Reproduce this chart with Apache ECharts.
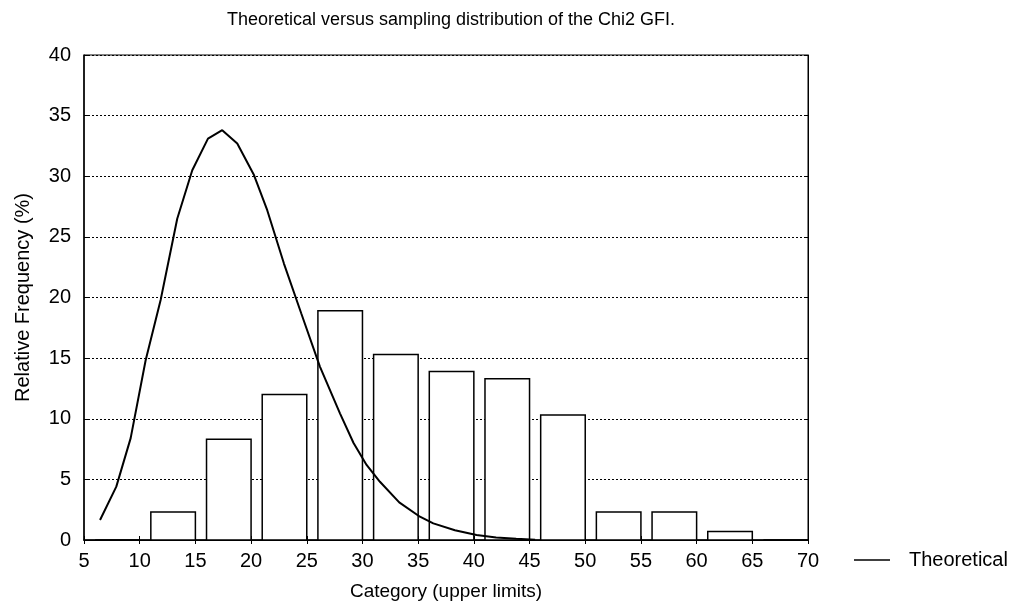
<!DOCTYPE html>
<html>
<head>
<meta charset="utf-8">
<script src="https://cdn.jsdelivr.net/npm/echarts@6/dist/echarts.min.js"></script>
<style>
html, body { margin: 0; padding: 0; background: #fff; }
#main { width: 1010px; height: 611px; }
</style>
</head>
<body>
<div id="main"></div>
<script>
// category upper limits and the sampled relative frequency (%) of each bin
var upperLimits = [10, 15, 20, 25, 30, 35, 40, 45, 50, 55, 60, 65, 70];
var sampleFreq = [0, 2.3, 8.3, 12.0, 18.9, 15.3, 13.9, 13.3, 10.3, 2.3, 2.3, 0.7, 0];

// theoretical chi2 curve
var theoX = [6.44, 7.9, 9.19, 10.53, 11.88, 13.37, 14.72, 16.13, 17.41, 18.76, 20.26, 21.45, 22.95, 24.5, 26.18, 27.98, 29.2, 30.37, 31.57, 33.3, 35.16, 36.36, 38.3, 40.24, 42.0, 43.8, 45.5];
var theoY = [1.65, 4.4, 8.4, 14.8, 19.8, 26.5, 30.5, 33.1, 33.8, 32.7, 30.1, 27.2, 22.8, 18.7, 14.3, 10.45, 8.0, 6.19, 4.8, 3.1, 1.92, 1.37, 0.8, 0.41, 0.2, 0.1, 0.02];

var xTicks = [5, 70, 5];   // min, max, interval
var yTicks = [0, 40, 5];

var binWidth = 4;
var font = 'Liberation Sans, Arial, sans-serif';

var barData = upperLimits.map(function (u, i) { return [u, sampleFreq[i]]; });
var lineData = theoX.map(function (x, i) { return [x, theoY[i]]; });

var myChart = echarts.init(document.getElementById('main'));

var option = {
    animation: false,
    backgroundColor: '#fff',
    title: {
        text: 'Theoretical versus sampling distribution of the Chi2 GFI.',
        left: 446,
        textAlign: 'center',
        top: 6,
        textStyle: { fontFamily: font, fontSize: 18, fontWeight: 'normal', color: '#000' }
    },
    legend: {
        data: ['Theoretical'],
        left: 849,
        top: 545,
        icon: 'rect',
        itemWidth: 36,
        itemHeight: 1.5,
        textStyle: { fontFamily: font, fontSize: 20, color: '#000', padding: [0, 0, 0, 14] }
    },
    grid: {
        left: 84,
        right: 202,
        top: 55,
        bottom: 71,
        show: true,
        borderColor: '#000',
        borderWidth: 1
    },
    xAxis: [
        {
            type: 'value',
            min: xTicks[0],
            max: xTicks[1],
            interval: xTicks[2],
            name: 'Category (upper limits)',
            nameLocation: 'middle',
            nameGap: 42,
            nameTextStyle: { fontFamily: font, fontSize: 19, color: '#000' },
            axisLine: { lineStyle: { color: '#000', width: 1.5 } },
            axisTick: { inside: true, length: 4, lineStyle: { color: '#000' } },
            axisLabel: { fontFamily: font, fontSize: 20, color: '#000', margin: 11 },
            splitLine: { show: false }
        },
        {
            type: 'value',
            position: 'top',
            min: xTicks[0],
            max: xTicks[1],
            interval: xTicks[2],
            axisLine: { lineStyle: { color: '#000' } },
            axisTick: { inside: true, length: 4, lineStyle: { color: '#000' } },
            axisLabel: { show: false },
            splitLine: { show: false }
        }
    ],
    yAxis: [
        {
            type: 'value',
            min: yTicks[0],
            max: yTicks[1],
            interval: yTicks[2],
            name: 'Relative Frequency (%)',
            nameLocation: 'middle',
            nameGap: 51,
            nameTextStyle: { fontFamily: font, fontSize: 20, color: '#000' },
            axisLine: { show: true, lineStyle: { color: '#000', width: 1.5 } },
            axisTick: { show: true, inside: true, length: 4, lineStyle: { color: '#000' } },
            axisLabel: { fontFamily: font, fontSize: 20, color: '#000', margin: 13 },
            splitLine: { show: true, lineStyle: { color: '#000', type: [2, 2], width: 1 } }
        },
        {
            type: 'value',
            position: 'right',
            min: yTicks[0],
            max: yTicks[1],
            interval: yTicks[2],
            axisLine: { show: true, lineStyle: { color: '#000' } },
            axisTick: { show: true, inside: true, length: 4, lineStyle: { color: '#000' } },
            axisLabel: { show: false },
            splitLine: { show: false }
        }
    ],
    series: [
        {
            name: 'Sample',
            type: 'custom',
            data: barData,
            z: 2,
            renderItem: function (params, api) {
                var upper = api.value(0);
                var v = api.value(1);
                var p0 = api.coord([upper - binWidth, 0]);
                var p1 = api.coord([upper, v]);
                return {
                    type: 'rect',
                    shape: { x: p0[0], y: p1[1], width: p1[0] - p0[0], height: p0[1] - p1[1] },
                    style: { fill: '#fff', stroke: '#000', lineWidth: 1.5 }
                };
            }
        },
        {
            name: 'Theoretical',
            type: 'line',
            data: lineData,
            z: 3,
            showSymbol: false,
            symbol: 'none',
            smooth: false,
            itemStyle: { color: '#000' },
            lineStyle: { color: '#000', width: 2 }
        }
    ]
};

myChart.setOption(option, true);
</script>
</body>
</html>
